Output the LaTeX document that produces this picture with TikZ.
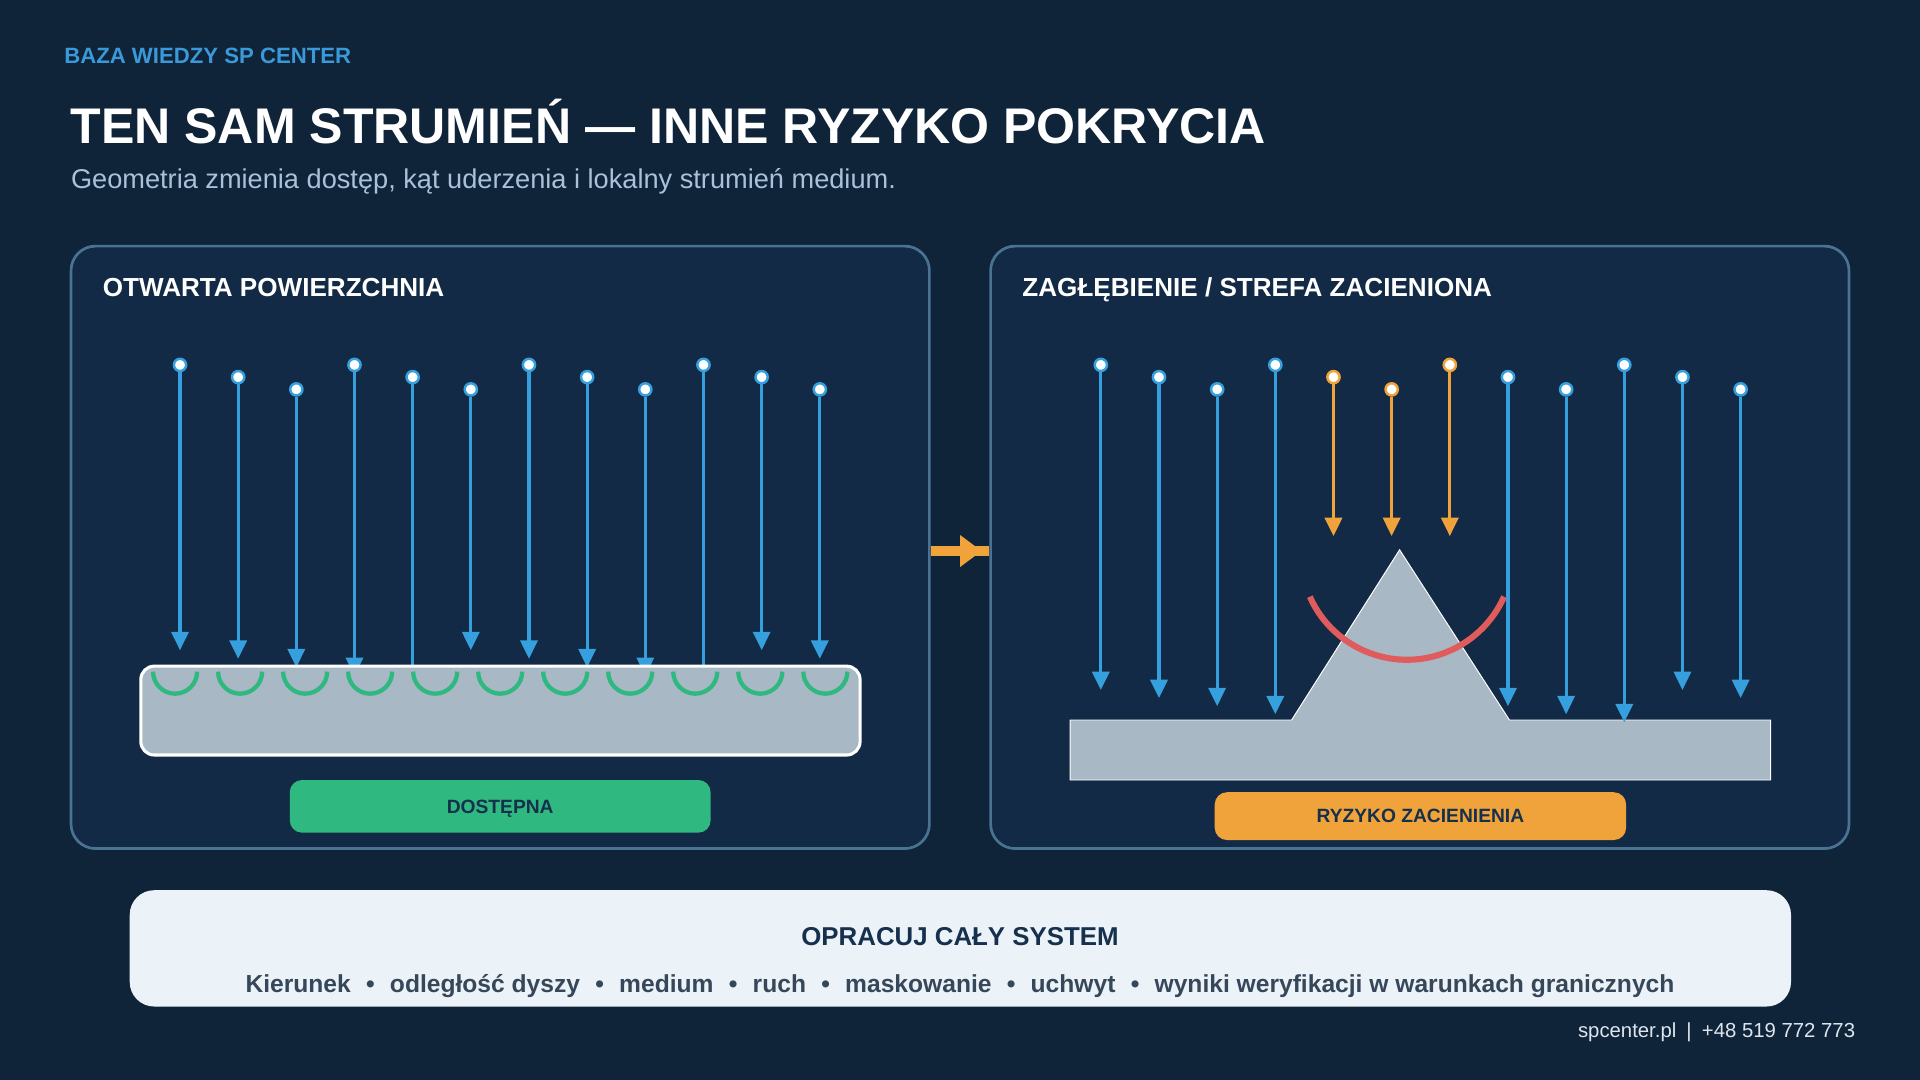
\documentclass[tikz,border=0pt]{standalone}
\usepackage{fontspec}
\setmainfont{Liberation Sans}
\usetikzlibrary{arrows.meta}
\definecolor{bg}{HTML}{0F2339}
\definecolor{panelfill}{HTML}{122A45}
\definecolor{panelline}{HTML}{4A7393}
\definecolor{jetblue}{HTML}{35A0DD}
\definecolor{jetorange}{HTML}{F0A33A}
\definecolor{okgreen}{HTML}{2FB880}
\definecolor{riskred}{HTML}{E05C5C}
\definecolor{slabgrey}{HTML}{A8B8C4}
\definecolor{badgetext}{HTML}{15304C}
\definecolor{subtext}{HTML}{A9C1D9}
\definecolor{kicker}{HTML}{3A9AD9}
\definecolor{boxbg}{HTML}{ECF3F8}
\definecolor{boxtitle}{HTML}{16304D}
\definecolor{boxline}{HTML}{37475A}
\definecolor{foottext}{HTML}{DDE6EE}
\newcommand\mysep{\hspace{0.62em}•\hspace{0.62em}}
\begin{document}
\begin{tikzpicture}[x=1pt,y=1pt,
  txt/.style={inner sep=0pt, outer sep=0pt},
  panel/.style={draw=panelline, line width=2.2pt, fill=panelfill, rounded corners=20pt,
    minimum width=701pt, minimum height=492pt, inner sep=0pt},
  jetdot/.style={circle, draw=#1, fill=white, line width=2pt, minimum size=10pt, inner sep=0pt},
  jetline/.style={draw=#1, line width=2.5pt, -{Triangle[length=15pt,width=14pt]}},
  badge/.style={rounded corners=10pt, inner sep=0pt, text=badgetext,
    font=\bfseries\fontsize{15.7}{19}\selectfont, text height=11.2pt, text depth=0pt},
  ptitle/.style={txt, anchor=base west, text=white, font=\bfseries\fontsize{21.3}{25}\selectfont}
]
\fill[bg] (0,0) rectangle (1568,-882);
\useasboundingbox (0,0) rectangle (1568,-882);

% header
\node[txt, anchor=base west, text=kicker, font=\bfseries\fontsize{18.1}{22}\selectfont] (kick) at (52.5,-51.7) {BAZA WIEDZY SP CENTER};
\node[txt, anchor=base west, text=white, font=\bfseries\fontsize{40.9}{48}\selectfont] (title) at (57.5,-117.6) {TEN SAM STRUMIEŃ — INNE RYZYKO POKRYCIA};
\node[txt, anchor=base west, text=subtext, font=\fontsize{22.2}{26}\selectfont] (sub) at (58,-153.8) {Geometria zmienia dostęp, kąt uderzenia i lokalny strumień medium.};

% panels
\node[panel] (L) at (408.5,-447) {};
\node[panel] (R) at (1159.5,-447) {};
\node[ptitle] (Lt) at (84,-242.5) {OTWARTA POWIERZCHNIA};
\node[ptitle] (Rt) at (835,-242.5) {ZAGŁĘBIENIE / STREFA ZACIENIONA};

% connector between panels
\coordinate (ca) at ([yshift=-3pt]L.east);
\coordinate (cb) at ([yshift=-3pt]R.west);
\coordinate (ctip) at (801.7,-450);
\draw[jetorange, line width=8pt] (ca) -- (cb);
\draw[jetorange, line width=8pt, -{Triangle[length=17.7pt,width=25pt]}] (ca) -- (ctip);

% left panel jets
\foreach \i in {0,...,11}{
  \pgfmathsetmacro\xx{147+47.5*\i}
  \pgfmathsetmacro\ys{-(298+10*mod(\i,3))}
  \pgfmathsetmacro\ye{-(531+7*mod(\i,5))}
  \node[jetdot=jetblue] (ls\i) at (\xx,\ys) {};
  \coordinate (le\i) at (\xx,\ye);
  \draw[jetline=jetblue] (ls\i) -- (le\i);
}
\node[draw=white, line width=2.5pt, fill=slabgrey, rounded corners=11pt,
  minimum width=587.4pt, minimum height=72.6pt, inner sep=0pt] (slab) at (408.7,-580.3) {};
\foreach \k in {0,...,10}{
  \pgfmathsetmacro\cx{143+53.1*\k-18}
  \draw[okgreen, line width=3.5pt] (\cx,-548.5) arc[start angle=180, end angle=360, radius=18pt];
}
\node[badge, fill=okgreen, minimum width=343.7pt, minimum height=43pt] (ok) at (408.5,-658.5) {DOSTĘPNA};

% right panel
\path[draw=white, line width=0.8pt, fill=slabgrey] (874,-588) -- (1054.8,-588) -- (1143,-449) -- (1232.7,-588) -- (1446,-588) -- (1446,-637) -- (874,-637) -- cycle;
\foreach \i in {0,...,11}{
  \pgfmathsetmacro\xx{899+47.5*\i}
  \pgfmathsetmacro\ys{-(298+10*mod(\i,3))}
  \pgfmathsetmacro\ye{-(563.5+6.6*mod(\i,5))}
  \ifnum\i>3 \ifnum\i<7
    \node[jetdot=jetorange] (rs\i) at (\xx,\ys) {};
    \coordinate (re\i) at (\xx,-437.8);
    \draw[jetline=jetorange] (rs\i) -- (re\i);
  \else
    \node[jetdot=jetblue] (rs\i) at (\xx,\ys) {};
    \coordinate (re\i) at (\xx,\ye);
    \draw[jetline=jetblue] (rs\i) -- (re\i);
  \fi\else
    \node[jetdot=jetblue] (rs\i) at (\xx,\ys) {};
    \coordinate (re\i) at (\xx,\ye);
    \draw[jetline=jetblue] (rs\i) -- (re\i);
  \fi
}
\draw[riskred, line width=5pt] (1069.7,-487.3) arc[start angle=-156, end angle=-24, radius=86.8pt];
\node[badge, fill=jetorange, minimum width=336pt, minimum height=39pt] (risk) at (1160,-666.5) {RYZYKO ZACIENIENIA};

% bottom box
\node[fill=boxbg, rounded corners=20pt, minimum width=1356.7pt, minimum height=95pt, inner sep=0pt] (sys) at (784.3,-774.5) {};
\node[txt, anchor=base, text=boxtitle, font=\bfseries\fontsize{21.1}{25}\selectfont] (systitle) at (784,-772.3) {OPRACUJ CAŁY SYSTEM};
\node[txt, anchor=base, text=boxline, font=\bfseries\fontsize{20.1}{24}\selectfont] (sysline) at (784,-810.4) {Kierunek\mysep odległość dyszy\mysep medium\mysep ruch\mysep maskowanie\mysep uchwyt\mysep wyniki weryfikacji w warunkach granicznych};

% footer
\node[txt, anchor=base east, text=foottext, font=\fontsize{16.6}{20}\selectfont] (foot) at (1515,-847) {spcenter.pl\hspace{0.5em}|\hspace{0.5em}+48 519 772 773};
\end{tikzpicture}
\end{document}
